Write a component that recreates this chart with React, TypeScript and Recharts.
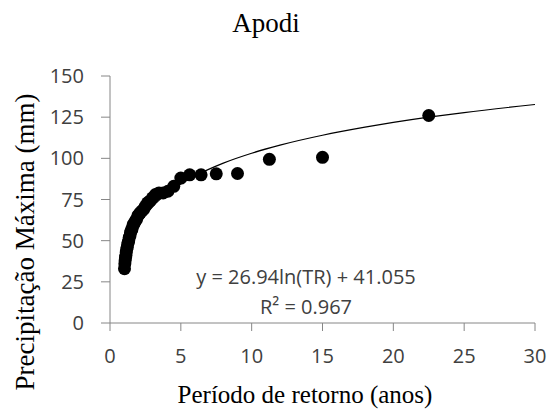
import React from 'react';
import { ComposedChart, Scatter, Line, XAxis, YAxis } from 'recharts';

// Return period (years) of each observed maximum
const periodoRetorno = [
  22.5, 15, 11.25, 9, 7.5, 6.43, 5.625, 5, 4.5, 4.09, 3.75, 3.46, 3.21, 3.0, 2.81,
  2.65, 2.5, 2.37, 2.25, 2.14, 2.05, 1.96, 1.875, 1.8, 1.73, 1.67, 1.61, 1.55, 1.5,
  1.45, 1.41, 1.36, 1.32, 1.29, 1.25, 1.22, 1.18, 1.15, 1.125, 1.098, 1.071, 1.047, 1.023,
];
// Maximum precipitation (mm)
const precipitacao = [
  126, 100.6, 99.4, 90.8, 90.6, 90, 90, 88, 83, 80, 79, 79, 78, 76, 74,
  73, 71, 69, 68, 67, 66, 65, 63, 62, 61, 60, 59, 57, 56,
  55, 53, 52, 50, 49, 48, 46, 45, 43, 41, 40, 38, 36, 33,
];

// Trendline
const trendX = [1, 1.5, 2, 3, 4, 5, 6, 8, 10, 12, 15, 18, 20, 22.5, 25, 30];
const trendY = [41, 52, 59.7, 70.6, 78.4, 84.4, 89.3, 97.1, 103.1, 108, 114, 118.9, 121.8, 125, 127.8, 132.7];

const xTicks = [0, 5, 10, 15, 20, 25, 30];
const yTicks = [0, 25, 50, 75, 100, 125, 150];

const pontos = periodoRetorno.map((x, i) => ({ x, y: precipitacao[i] }));
const tendencia = trendX.map((x, i) => ({ x, y: trendY[i] }));

const tickStyle = { fill: '#404040', fontSize: 20, fontFamily: '"Open Sans", sans-serif' };
const serif = '"Liberation Serif", "Times New Roman", serif';

const Dot = (props: any) => <circle cx={props.cx} cy={props.cy} r={6.5} fill="#000" />;

export default function App() {
  return (
    <div style={{ position: 'absolute', left: 0, top: 0, width: 549, height: 411, background: '#fff' }}>
      <ComposedChart width={549} height={411} margin={{ top: 76, right: 14, bottom: 3, left: 0 }}>
        <XAxis
          dataKey="x"
          type="number"
          domain={[0, 30]}
          ticks={xTicks}
          height={85}
          tick={tickStyle}
          tickSize={8}
          tickMargin={18}
          stroke="#868686"
          allowDataOverflow
        />
        <YAxis
          type="number"
          domain={[0, 150]}
          ticks={yTicks}
          width={110}
          tick={tickStyle}
          tickSize={9}
          tickMargin={17}
          stroke="#868686"
          allowDataOverflow
        />
        <Scatter data={pontos} dataKey="y" shape={<Dot />} isAnimationActive={false} />
        <Line
          data={tendencia}
          dataKey="y"
          type="monotone"
          stroke="#000"
          strokeWidth={1.2}
          dot={false}
          activeDot={false}
          isAnimationActive={false}
        />
      </ComposedChart>

      <div style={{ position: 'absolute', left: 166, width: 200, top: 10, lineHeight: '27px', fontSize: 27, fontFamily: serif, textAlign: 'center', color: '#000' }}>
        Apodi
      </div>
      <div style={{ position: 'absolute', left: 155, width: 300, top: 382, lineHeight: '25px', fontSize: 25, fontFamily: serif, textAlign: 'center', color: '#000' }}>
        Período de retorno (anos)
      </div>
      <div
        style={{
          position: 'absolute', left: 25 - 170, width: 340, top: 242 - 15, height: 30, lineHeight: '30px',
          fontSize: 27, fontFamily: serif, textAlign: 'center', color: '#000', transform: 'rotate(-90deg)',
        }}
      >
        Precipitação Máxima (mm)
      </div>
      <div style={{ position: 'absolute', left: 156, width: 300, top: 262, lineHeight: '30px', fontSize: 20, fontFamily: '"Open Sans", sans-serif', textAlign: 'center', color: '#404040' }}>
        <div>y = 26.94ln(TR) + 41.055</div>
        <div>R² = 0.967</div>
      </div>
    </div>
  );
}
